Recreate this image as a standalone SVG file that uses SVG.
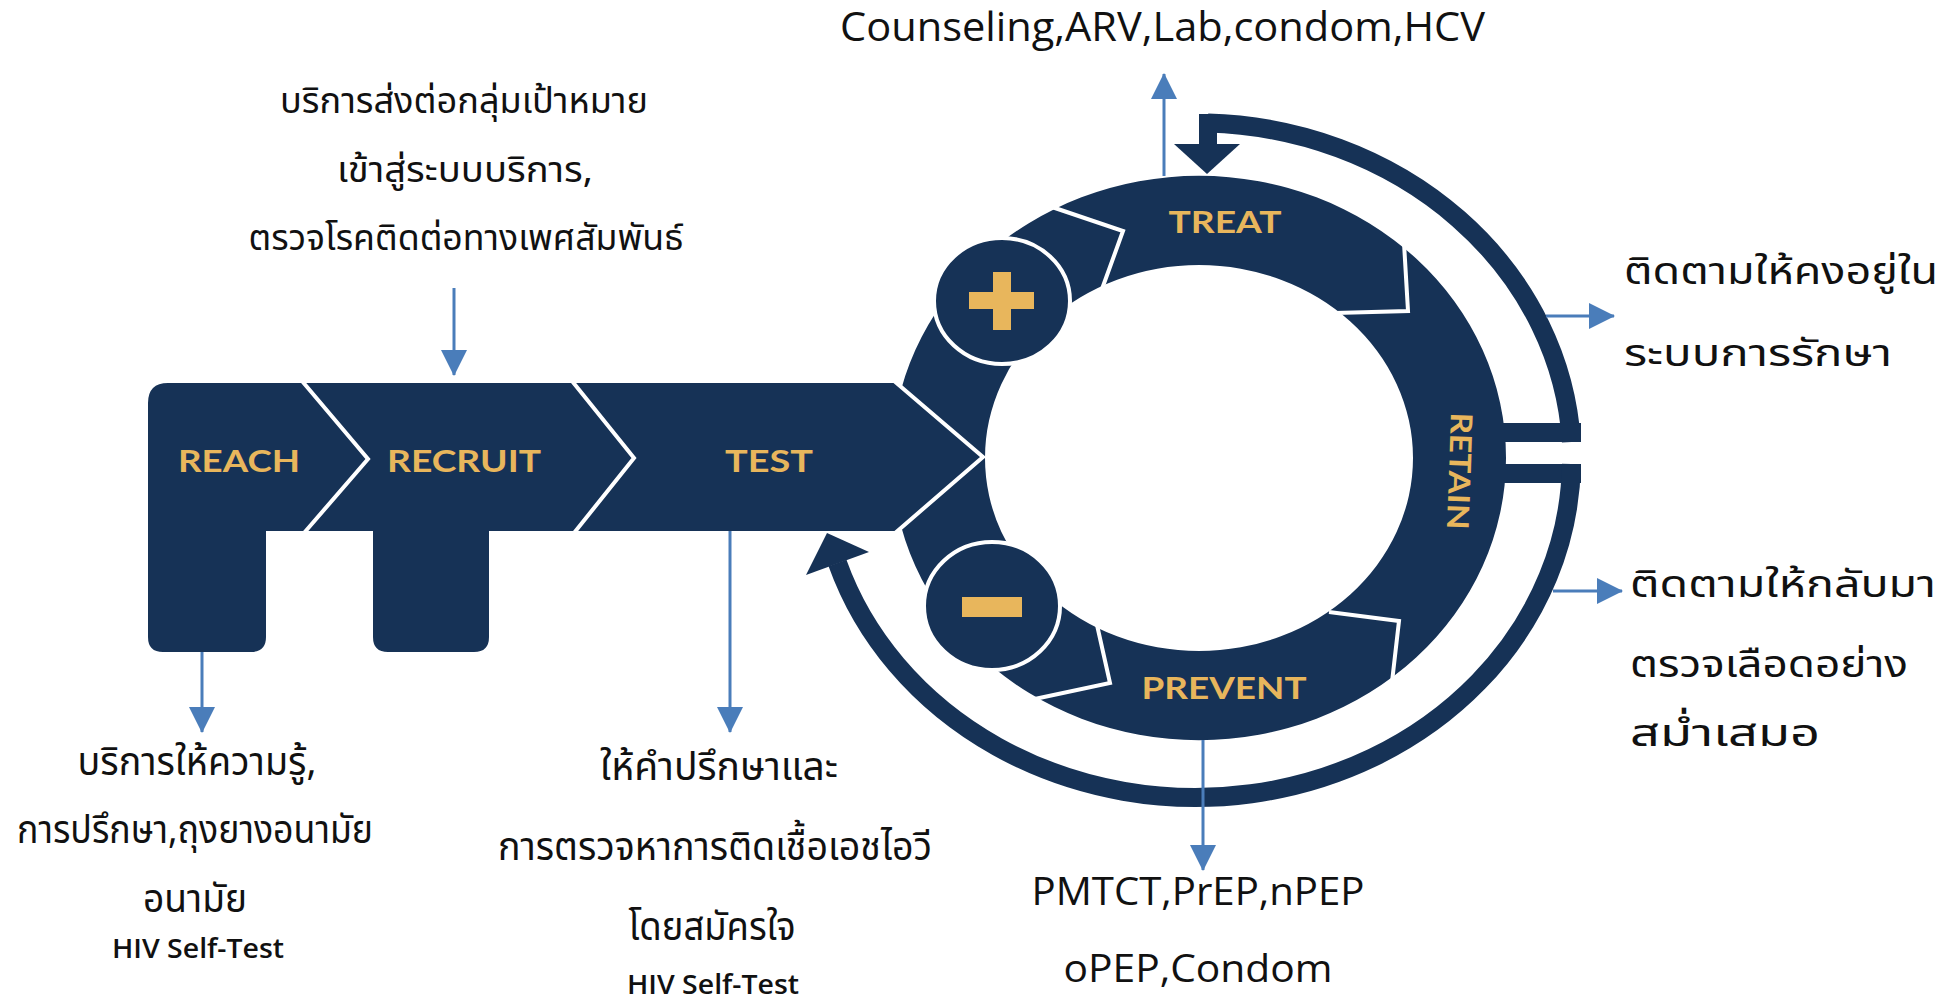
<svg xmlns="http://www.w3.org/2000/svg" width="1944" height="1001" viewBox="0 0 1944 1001">
  <style>
    .navy { fill: #163256; }
    .gold { fill: #E8B65C; }
    .sep { fill: none; stroke: #ffffff; stroke-width: 4; stroke-linejoin: miter; }
    .label { font-family: Lato, "Open Sans", sans-serif; font-weight: 700; font-size: 30px; fill: #E8B65C; text-anchor: middle; }
    .thai { font-family: "Noto Sans Thai", "Noto Sans Thai UI", Loma, Garuda, "Tlwg Typo", Tahoma, "Noto Sans", sans-serif; fill: #111111; }
    .latin { font-family: "Open Sans", "Noto Sans", sans-serif; fill: #111111; }
    .small { font-weight: 600; font-size: 27px; }
    .mid { text-anchor: middle; }
    .link { stroke: #4A7DBA; stroke-width: 3; fill: none; marker-end: url(#tip); }
    .loop { fill: none; stroke: #163256; stroke-width: 19; }
  </style>
  <defs>
    <marker id="tip" markerUnits="userSpaceOnUse" markerWidth="26" markerHeight="26" refX="25" refY="13" orient="auto">
      <path d="M0,0 L26,13 L0,26 Z" fill="#4A7DBA"/>
    </marker>
  </defs>

  <rect width="1944" height="1001" fill="#ffffff"/>

  <!-- cycle ring -->
  <g id="ring">
    <path class="navy" fill-rule="evenodd" d="M 892 458 A 307 282 0 1 0 1506 458 A 307 282 0 1 0 892 458 Z M 985 458 A 214 193 0 1 0 1413 458 A 214 193 0 1 0 985 458 Z"/>
    <polyline class="sep" points="1049,206 1123,231 1102,289"/>
    <polyline class="sep" points="1404,243 1408,311 1335,313"/>
    <polyline class="sep" points="1329,612 1399,621 1392,682"/>
    <polyline class="sep" points="1097,625 1110,683 1030,700"/>
  </g>

  <!-- key-shaped pipeline: reach, recruit, test -->
  <g id="key">
    <path class="navy" d="M 168 383 L 896 383 L 982 457 L 897 531 L 489 531 L 489 637 Q 489 652 474 652 L 388 652 Q 373 652 373 637 L 373 531 L 266 531 L 266 637 Q 266 652 251 652 L 163 652 Q 148 652 148 637 L 148 403 Q 148 383 168 383 Z"/>
    <polyline class="sep" points="302,381 368,459 304,533"/>
    <polyline class="sep" points="572,381 634,458 574,533"/>
    <polyline class="sep" points="893,380 983,457 894,534"/>
  </g>

  <g id="reach"><text class="label" x="239" y="472" textLength="122" lengthAdjust="spacingAndGlyphs">REACH</text></g>
  <g id="recruit"><text class="label" x="464" y="472" textLength="154" lengthAdjust="spacingAndGlyphs">RECRUIT</text></g>
  <g id="test"><text class="label" x="769" y="472" textLength="88" lengthAdjust="spacingAndGlyphs">TEST</text></g>
  <g id="treat"><text class="label" x="1225" y="233" textLength="113" lengthAdjust="spacingAndGlyphs">TREAT</text></g>
  <g id="prevent"><text class="label" x="1224" y="699" textLength="165" lengthAdjust="spacingAndGlyphs">PREVENT</text></g>
  <g id="retain"><text class="label" transform="translate(1460,471) rotate(92)" x="0" y="11" textLength="117" lengthAdjust="spacingAndGlyphs">RETAIN</text></g>

  <!-- positive / negative result badges -->
  <g id="positive">
    <ellipse cx="1002" cy="301" rx="68" ry="63" fill="#163256" stroke="#ffffff" stroke-width="4"/>
    <rect class="gold" x="969" y="292" width="65" height="17"/>
    <rect class="gold" x="993" y="272" width="18" height="58"/>
  </g>
  <g id="negative">
    <ellipse cx="992" cy="606" rx="68" ry="64" fill="#163256" stroke="#ffffff" stroke-width="4"/>
    <rect class="gold" x="962" y="597" width="60" height="20"/>
  </g>

  <!-- connectors -->
  <g id="connectors">
    <!-- retention loop back into treatment -->
    <path class="loop" d="M 1208 123 A 376 338 0 0 1 1571.4 442"/>
    <rect class="navy" x="1199" y="114" width="18" height="32"/>
    <polygon class="navy" points="1174,144 1240,144 1207,174"/>
    <rect class="navy" x="1500" y="423" width="81" height="19"/>
    <!-- re-testing loop back to test -->
    <rect class="navy" x="1500" y="464" width="81" height="19"/>
    <path class="loop" d="M 1571.4 464 A 376 338 0 0 1 837.5 563"/>
    <polygon class="navy" points="827,533 869,552 806,575"/>

    <!-- service pointers -->
    <line class="link" x1="454" y1="288" x2="454" y2="375"/>
    <line class="link" x1="202" y1="652" x2="202" y2="732"/>
    <line class="link" x1="730" y1="531" x2="730" y2="732"/>
    <line class="link" x1="1164" y1="176" x2="1164" y2="74"/>
    <line class="link" x1="1203" y1="740" x2="1203" y2="870"/>
    <line class="link" x1="1546" y1="316" x2="1614" y2="316"/>
    <line class="link" x1="1553" y1="591" x2="1622" y2="591"/>
  </g>

  <!-- service descriptions -->
  <g id="recruit-services" class="thai mid" font-size="36">
    <text x="464" y="113" textLength="368" lengthAdjust="spacingAndGlyphs">บริการส่งต่อกลุ่มเป้าหมาย</text>
    <text x="465" y="182" textLength="256" lengthAdjust="spacingAndGlyphs">เข้าสู่ระบบบริการ,</text>
    <text x="466" y="250" textLength="435" lengthAdjust="spacingAndGlyphs">ตรวจโรคติดต่อทางเพศสัมพันธ์</text>
  </g>

  <g id="reach-services">
    <g class="thai mid" font-size="40">
      <text x="197" y="775" textLength="239" lengthAdjust="spacingAndGlyphs">บริการให้ความรู้,</text>
      <text x="195" y="843" textLength="356" lengthAdjust="spacingAndGlyphs">การปรึกษา,ถุงยางอนามัย</text>
      <text x="195" y="912" textLength="104" lengthAdjust="spacingAndGlyphs">อนามัย</text>
    </g>
    <text class="latin small mid" x="198" y="958" textLength="172" lengthAdjust="spacingAndGlyphs">HIV Self-Test</text>
  </g>

  <g id="test-services">
    <g class="thai mid" font-size="40">
      <text x="719" y="780" textLength="238" lengthAdjust="spacingAndGlyphs">ให้คำปรึกษาและ</text>
      <text x="715" y="860" textLength="434" lengthAdjust="spacingAndGlyphs">การตรวจหาการติดเชื้อเอชไอวี</text>
      <text x="712" y="940" textLength="167" lengthAdjust="spacingAndGlyphs">โดยสมัครใจ</text>
    </g>
    <text class="latin small mid" x="713" y="994" textLength="172" lengthAdjust="spacingAndGlyphs">HIV Self-Test</text>
  </g>

  <g id="treat-services">
    <text class="latin" x="840" y="41" font-size="40" textLength="645" lengthAdjust="spacingAndGlyphs">Counseling,ARV,Lab,condom,HCV</text>
  </g>

  <g id="prevent-services" class="latin mid" font-size="39">
    <text x="1198" y="905" textLength="333" lengthAdjust="spacingAndGlyphs">PMTCT,PrEP,nPEP</text>
    <text x="1198" y="982" textLength="269" lengthAdjust="spacingAndGlyphs">oPEP,Condom</text>
  </g>

  <g id="retain-services" class="thai" font-size="38">
    <text x="1624" y="284" textLength="314" lengthAdjust="spacingAndGlyphs">ติดตามให้คงอยู่ใน</text>
    <text x="1624" y="366" textLength="268" lengthAdjust="spacingAndGlyphs">ระบบการรักษา</text>
    <text x="1630" y="597" textLength="306" lengthAdjust="spacingAndGlyphs">ติดตามให้กลับมา</text>
    <text x="1630" y="677" textLength="278" lengthAdjust="spacingAndGlyphs">ตรวจเลือดอย่าง</text>
    <text x="1630" y="746" textLength="190" lengthAdjust="spacingAndGlyphs">สม่ำเสมอ</text>
  </g>
</svg>
